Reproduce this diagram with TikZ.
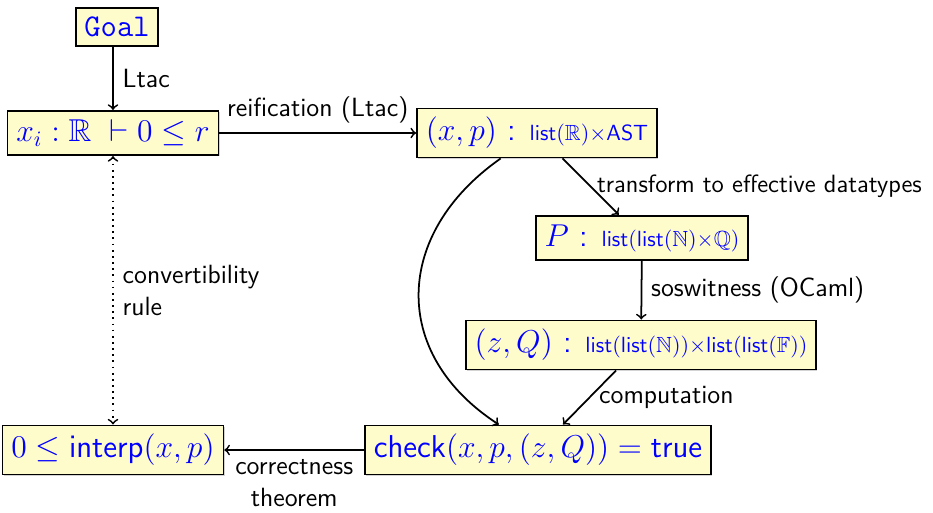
\documentclass[tikz,border=0pt,12pt]{standalone}
\usepackage{amssymb}
\usepackage{tikz}
\usetikzlibrary{shadows}
\renewcommand{\familydefault}{\sfdefault}
\tikzstyle{box}=[draw=black, fill=yellow!20, text=blue, font=\large, inner sep=4pt, drop shadow={shadow xshift=.5pt, shadow yshift=-.5pt, opacity=.35}]
\tikzstyle{lbl}=[font=\normalsize, text=black]
\newcommand{\lst}{\mathsf{list}}
\newcommand{\typ}[1]{{\footnotesize$#1$}}

\begin{document}
\begin{tikzpicture}[x=0.016cm, y=0.016cm, thick]
    \useasboundingbox (0,0) rectangle (933,-513);

    %boxes
    \node[box, font=\large\ttfamily] (goal) at (117,-27) {Goal};
    \node[box] (hyp) at (113,-133) {$x_i : \mathbb{R} \;\vdash 0 \le r$};
    \node[box] (reif) at (537,-133) {$(x,p)$ : \typ{\lst(\mathbb{R}){\times}\mathsf{AST}}};
    \node[box] (eff) at (642,-238) {$P$ : \typ{\lst(\lst(\mathbb{N}){\times}\mathbb{Q})}};
    \node[box] (wit) at (641,-345) {$(z,Q)$ : \typ{\lst(\lst(\mathbb{N})){\times}\lst(\lst(\mathbb{F}))}};
    \node[box] (interp) at (113,-450) {$0 \le \mathsf{interp}(x,p)$};
    \node[box] (check) at (538,-450) {$\mathsf{check}(x,p,(z,Q)) = \mathsf{true}$};

    %arrows
    \draw[->] (goal.south -| hyp.north) -- node[right, lbl] {Ltac} (hyp.north);
    \draw[->] (hyp) -- node[above, lbl] {reification (Ltac)} (reif);
    \draw[->] (reif) -- node[right, lbl, font=\fontsize{11.4}{14}\selectfont, inner sep=2.5pt] {transform to effective datatypes} (eff);
    \draw[->] (eff) -- node[right, lbl] {soswitness (OCaml)} (wit);
    \draw[->] (wit) -- node[right, lbl] {computation} (check);
    \draw[->] (reif) to[out=215, in=147, looseness=1.25] (check);
    \draw[->] (check) -- node[below, lbl, align=center] {correctness\\theorem} (interp);
    \draw[<->, dotted] (hyp) -- node[right, lbl, align=left] {convertibility\\rule} (interp);

\end{tikzpicture}
\end{document}
